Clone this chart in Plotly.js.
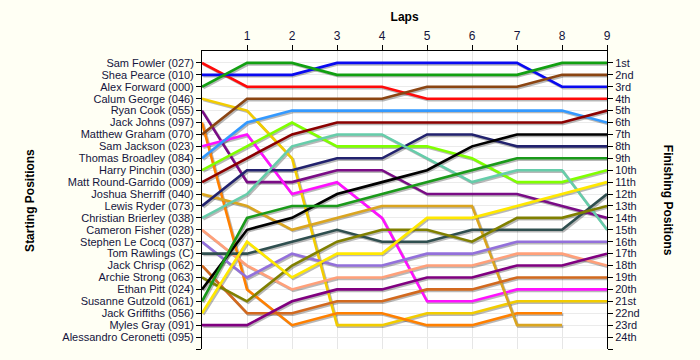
<!DOCTYPE html>
<html>
<head>
<meta charset="utf-8">
<script src="https://cdn.plot.ly/plotly-3.0.1.min.js"></script>
<style>
html,body{margin:0;padding:0;background:#fffff4;}
#chart{width:700px;height:360px;}
</style>
</head>
<body>
<div id="chart"></div>
<script>
const laps = [0,1,2,3,4,5,6,7,8,9];
const drivers = [
  "Sam Fowler (027)","Shea Pearce (010)","Alex Forward (000)","Calum George (046)",
  "Ryan Cook (055)","Jack Johns (097)","Matthew Graham (070)","Sam Jackson (023)",
  "Thomas Broadley (084)","Harry Pinchin (030)","Matt Round-Garrido (009)","Joshua Sherriff (040)",
  "Lewis Ryder (073)","Christian Brierley (038)","Cameron Fisher (028)","Stephen Le Cocq (037)",
  "Tom Rawlings (C)","Jack Chrisp (062)","Archie Strong (063)","Ethan Pitt (024)",
  "Susanne Gutzold (061)","Jack Griffiths (056)","Myles Gray (091)","Alessandro Ceronetti (095)"
];
const finishLabels = ["1st","2nd","3rd","4th","5th","6th","7th","8th","9th","10th","11th","12th",
  "13th","14th","15th","16th","17th","18th","19th","20th","21st","22nd","23rd","24th"];

// positions per lap (lap 0 = start)
const samFowler        = [1,3,3,3,3,4,4,4,4,4];
const sheaPearce       = [2,2,2,1,1,1,1,1,3,3];
const alexForward      = [3,1,1,2,2,2,2,2,1,1];
const calumGeorge      = [4,5,9,23,23,22,22,21,21,21];
const ryanCook         = [5,11,11,10,10,12,12,12,13,14];
const jackJohns        = [6,20,23,22,22,23,23,22,22,null];
const matthewGraham    = [7,4,4,4,4,3,3,3,2,2];
const samJackson       = [8,7,12,11,14,21,21,20,20,20];
const thomasBroadley   = [9,6,5,5,5,5,5,5,5,6];
const harryPinchin     = [10,8,6,8,8,8,9,11,11,10];
const mattRoundGarrido = [11,9,7,6,6,6,6,6,6,5];
const joshuaSherriff   = [12,13,15,14,13,13,13,23,23,null];
const lewisRyder       = [13,10,10,9,9,7,7,8,8,8];
const christianBrierley= [14,12,8,7,7,9,11,10,10,15];
const cameronFisher    = [15,18,20,19,19,18,18,17,17,18];
const stephenLeCocq    = [16,19,17,18,18,17,17,16,16,16];
const tomRawlings      = [17,17,16,15,16,16,15,15,15,12];
const jackChrisp       = [18,22,22,21,21,20,20,19,19,19];
const archieStrong     = [19,21,18,16,15,15,16,14,14,13];
const ethanPitt        = [20,15,14,12,11,10,8,7,7,7];
const susanneGutzold   = [21,14,13,13,12,11,10,9,9,9];
const jackGriffiths    = [22,16,19,17,17,14,14,13,12,11];
const mylesGray        = [23,23,21,20,20,19,19,18,18,17];

const series = [samFowler,sheaPearce,alexForward,calumGeorge,ryanCook,jackJohns,matthewGraham,
  samJackson,thomasBroadley,harryPinchin,mattRoundGarrido,joshuaSherriff,lewisRyder,christianBrierley,
  cameronFisher,stephenLeCocq,tomRawlings,jackChrisp,archieStrong,ethanPitt,susanneGutzold,
  jackGriffiths,mylesGray];

const colors = ["#ff0a0a","#0a0af0","#12a012","#f2cc00","#7a0c86","#ff8000","#8b4513","#ff10ff",
  "#3399ff","#80ff00","#8b0000","#daa520","#22226e","#66cdaa","#ffa07a","#9370db","#2f4f4f",
  "#d2691e","#808000","#000000","#1a9a1a","#ffe800","#800080"];

const traces = [];
// soft shadows
series.forEach((s,i)=>{
  traces.push({x: laps.map(v=>v+0.03), y: s.map(v=>v===null?null:v+0.12), mode:'lines',
    line:{color:'rgba(0,0,0,0.28)', width:2.6}, hoverinfo:'skip', showlegend:false, xaxis:'x', yaxis:'y'});
});
series.forEach((s,i)=>{
  traces.push({x: laps, y: s, mode:'lines', name: drivers[i],
    line:{color: colors[i], width:2.6}, hoverinfo:'skip', showlegend:false, xaxis:'x', yaxis:'y'});
});
// dummy trace for right axis
traces.push({x:[0], y:[1], mode:'markers', marker:{opacity:0}, hoverinfo:'skip', showlegend:false, xaxis:'x', yaxis:'y2'});

const posTicks = drivers.map((d,i)=>i+1).concat([25]);
const font = {family:'Liberation Sans, Arial, sans-serif', size:11, color:'#14143c'};
const topFont = {family:'Liberation Sans, Arial, sans-serif', size:12, color:'#14143c'};

const layout = {
  width:700, height:360,
  paper_bgcolor:'#fffff4', plot_bgcolor:'#ffffff',
  margin:{l:202, r:93, t:51, b:11, pad:0},
  font: font,
  title:{text:'<b>Laps</b>', x:0.578, xref:'container', y:0.953, yref:'container', yanchor:'middle',
    font:{family:'Liberation Sans, Arial, sans-serif', size:12, color:'#000'}},
  xaxis:{range:[0,9], side:'top', tickvals:[1,2,3,4,5,6,7,8,9], ticktext:['1','2','3','4','5','6','7','8','9'],
    ticks:'outside', ticklen:5, tickcolor:'#000', showline:true, linecolor:'#000', linewidth:1,
    showgrid:true, gridcolor:'#e6e6e6', zeroline:false, fixedrange:true, tickfont:topFont},
  yaxis:{range:[25,0], tickvals:posTicks, ticktext:drivers.concat(['']), ticks:'outside', ticklen:5,
    tickcolor:'#000', showline:true, linecolor:'#000', linewidth:1, showgrid:true, gridcolor:'#ebebeb',
    zeroline:false, fixedrange:true, tickfont:font},
  yaxis2:{range:[25,0], overlaying:'y', side:'right', tickvals:posTicks, ticktext:finishLabels.concat(['']),
    ticks:'outside', ticklen:5, tickcolor:'#000', showline:true, linecolor:'#000', linewidth:1,
    showgrid:false, zeroline:false, fixedrange:true, tickfont:font},
  annotations:[
    {text:'<b>Starting Positions</b>', xref:'paper', yref:'paper', x:-0.425, y:0.5, textangle:-90,
      showarrow:false, xanchor:'center', yanchor:'middle', font:{family:'Liberation Sans, Arial, sans-serif', size:12, color:'#000'}},
    {text:'<b>Finishing Positions</b>', xref:'paper', yref:'paper', x:1.151, y:0.5, textangle:90,
      showarrow:false, xanchor:'center', yanchor:'middle', font:{family:'Liberation Sans, Arial, sans-serif', size:12, color:'#000'}}
  ]
};

Plotly.newPlot('chart', traces, layout, {displayModeBar:false, staticPlot:true});
</script>
</body>
</html>
